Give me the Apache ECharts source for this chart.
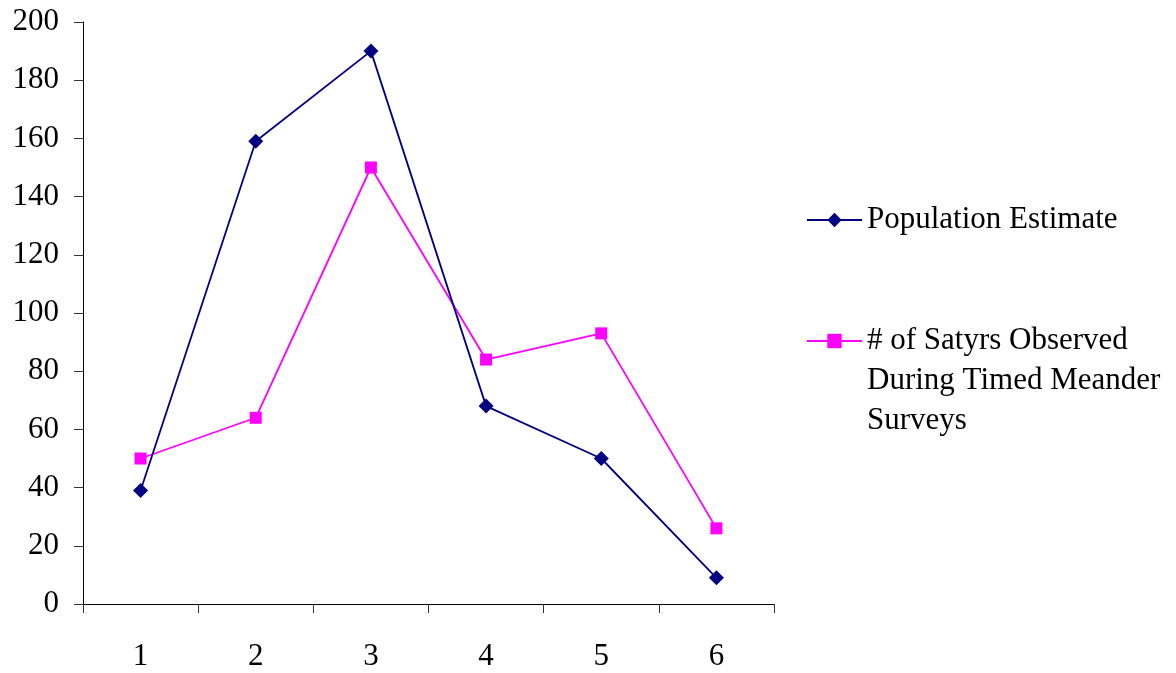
<!DOCTYPE html>
<html>
<head>
<meta charset="utf-8">
<script src="https://cdn.jsdelivr.net/npm/echarts@6/dist/echarts.min.js"></script>
<style>
  html, body { margin: 0; padding: 0; background: #fff; }
  #chart { width: 1176px; height: 673px; }
</style>
</head>
<body>
<div id="chart"></div>
<script>
// Survey periods along the x axis
const categories = ['1', '2', '3', '4', '5', '6'];
// Estimated satyr population per period
const populationEstimate = [39, 159, 190, 68, 50, 9];
// Satyrs counted during timed meander surveys
const satyrsObserved = [50, 64, 150, 84, 93, 26];

const seriesNames = ['Population Estimate', '# of Satyrs Observed'];
// Wrapped legend text for the second series
const observedLegendLines = ['# of Satyrs Observed', 'During Timed Meander', 'Surveys'];

const FONT = '"Liberation Serif", "Times New Roman", serif';
const chart = echarts.init(document.getElementById('chart'), null, { renderer: 'canvas' });

const legendText = {
  fontFamily: FONT,
  fontSize: 31,
  color: '#000',
  lineHeight: 40
};

chart.setOption({
  backgroundColor: '#fff',
  animation: false,
  grid: { left: 83, right: 402, top: 22, bottom: 69, containLabel: false },
  legend: [
    {
      data: [seriesNames[0]],
      orient: 'vertical',
      left: 806,
      top: 200,
      padding: 0,
      itemWidth: 55,
      itemHeight: 18,
      textStyle: legendText
    },
    {
      data: [seriesNames[1]],
      orient: 'vertical',
      left: 806,
      top: 241,
      padding: 0,
      itemWidth: 55,
      itemHeight: 18,
      // two leading blank lines keep the first line level with the icon
      formatter: function () {
        return '\n\n' + observedLegendLines.join('\n');
      },
      textStyle: legendText
    }
  ],
  xAxis: {
    type: 'category',
    data: categories,
    boundaryGap: true,
    axisLine: { show: true, lineStyle: { color: '#000', width: 1 } },
    axisTick: { show: true, inside: false, length: 9, lineStyle: { color: '#333' } },
    axisLabel: { fontFamily: FONT, fontSize: 31, color: '#000', margin: 37 },
    splitLine: { show: false }
  },
  yAxis: {
    type: 'value',
    min: 0,
    max: 200,
    interval: 20,
    axisLine: { show: true, lineStyle: { color: '#000', width: 1 } },
    axisTick: { show: true, inside: false, length: 9, lineStyle: { color: '#333' } },
    axisLabel: { fontFamily: FONT, fontSize: 31, color: '#000', margin: 24 },
    splitLine: { show: false }
  },
  series: [
    {
      name: seriesNames[0],
      type: 'line',
      data: populationEstimate,
      symbol: 'diamond',
      symbolSize: 15,
      showAllSymbol: true,
      lineStyle: { color: '#000080', width: 1.8 },
      itemStyle: { color: '#000080' },
      z: 3
    },
    {
      name: seriesNames[1],
      type: 'line',
      data: satyrsObserved,
      symbol: 'rect',
      symbolSize: 12,
      showAllSymbol: true,
      lineStyle: { color: '#ff00ff', width: 1.8 },
      itemStyle: { color: '#ff00ff' },
      z: 2
    }
  ]
});
</script>
</body>
</html>
